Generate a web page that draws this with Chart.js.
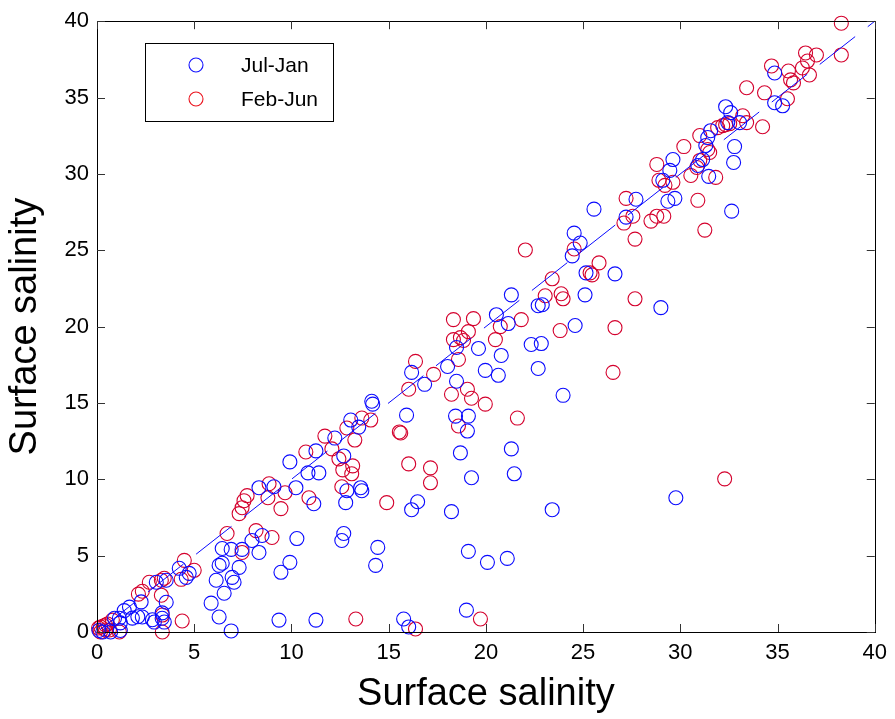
<!DOCTYPE html>
<html>
<head>
<meta charset="utf-8">
<script src="https://cdn.jsdelivr.net/npm/chart.js@4.4.0/dist/chart.umd.min.js"></script>
<style>
  html, body { margin: 0; padding: 0; background: #fff; }
  canvas { display: block; }
</style>
</head>
<body>
<canvas id="c" width="895" height="719"></canvas>
<script>
// ---- data ----
const julJanX = [0.1,0.3,0.7,0.9,1.15,1.2,1.2,1.4,2.1,2.85,3.35,3.35,
  1.67,2.27,2.33,1.82,2.95,3.46,3.56,3.05,3.56,4.23,4.59,4.74,5.87,6.28,6.9,6.13,6.28,6.44,7.05,6.54,6.95,7.31,6.44,6.9,7.46,8.33,7.97,8.49,
  9.36,9.46,9.92,10.28,8.33,9.1,10.23,9.92,10.85,11.41,11.15,11.26,11.26,12.23,15.77,16.03,19.0,12.69,12.59,14.44,14.33,19.1,20.08,21.1,
  18.23,16.18,16.49,12.79,13.56,13.62,12.85,12.69,13.05,13.46,14.13,14.18,15.92,16.18,16.85,18.03,18.49,18.44,19.1,19.05,18.69,19.26,
  21.31,21.46,19.62,19.97,20.64,20.79,20.54,21.15,22.33,22.85,22.69,18.49,29.62,29.46,29.1,29.36,29.72,27.72,27.21,32.74,32.64,31.46,30.9,
  25.56,24.54,24.85,24.44,25.15,26.64,25.1,29.0,21.31,22.69,22.9,24.59,23.97,29.77,23.41,32.33,32.59,33.05,31.56,31.41,31.31,31.15,32.79,
  34.85,34.85,35.26,32.44];
const julJanY = [0.1,0.0,0.0,0.9,0.9,0.6,0.1,1.4,1.0,0.8,0.9,1.25,
  1.63,1.97,0.98,0.91,0.65,0.65,1.95,3.26,3.39,4.17,3.58,3.84,1.89,0.98,0.07,3.39,4.36,4.5,3.26,2.54,3.58,4.23,5.47,5.41,5.41,5.21,5.99,6.32,
  0.78,3.91,4.56,6.12,9.45,9.51,9.45,11.14,10.42,10.42,8.4,11.86,0.78,12.7,0.85,0.33,1.43,6.45,5.99,5.54,4.36,5.28,4.56,4.82,
  7.88,8.01,8.53,8.47,9.45,9.25,9.25,11.53,13.88,13.42,15.11,14.92,14.2,17.0,16.22,17.39,16.42,14.14,14.14,13.16,11.73,10.1,
  11.99,10.36,18.57,17.13,16.81,18.11,20.78,20.2,18.83,18.89,17.26,18.63,30.94,30.23,29.58,28.21,28.4,28.34,27.17,30.75,27.56,29.84,30.55,
  27.69,26.12,25.47,24.63,23.52,23.45,22.08,21.24,22.08,21.37,21.43,20.07,15.5,8.79,8.01,34.4,34.01,33.36,32.83,32.38,31.86,30.94,31.79,
  36.61,34.66,34.46,33.36];

const febJunX = [0.08,0.18,0.33,0.44,0.54,0.18,0.79,1.15,0.64,0.44,
  2.13,2.33,2.69,3.31,3.36,3.36,4.38,4.33,4.49,5.0,6.69,7.46,7.31,7.46,7.56,7.72,8.85,8.79,9.67,9.46,8.18,9.0,10.9,10.74,11.72,12.08,
  12.44,12.64,13.15,13.1,12.59,12.85,13.26,13.62,14.08,13.31,14.9,15.62,15.55,16.03,17.15,17.15,16.03,16.38,17.31,18.23,19.05,19.26,19.97,
  18.59,18.59,18.33,19.36,18.33,18.69,18.85,19.1,20.49,20.74,21.82,21.62,19.72,16.38,28.79,28.9,29.21,29.62,30.54,30.85,31.0,31.51,31.82,
  30.9,31.26,27.21,27.56,27.1,28.49,28.79,29.15,27.67,22.03,24.54,25.82,25.36,25.46,23.41,23.05,23.87,23.97,27.67,23.82,26.64,26.54,32.28,
  38.28,38.28,36.44,37.0,36.54,36.28,36.64,34.69,35.56,35.67,35.82,35.51,33.41,34.33,33.21,33.41,34.23,32.33,31.92,32.18,32.54,31.0,31.41,
  30.18,3.31,3.46];
const febJunY = [0.26,0.33,0.39,0.46,0.52,0.0,0.78,0.0,0.13,0.13,
  2.48,2.67,3.26,2.41,1.11,0.0,0.72,3.45,4.69,4.04,6.45,5.21,7.75,8.14,8.6,8.93,9.71,8.79,9.12,8.08,6.64,6.19,8.79,11.79,12.83,11.99,
  11.34,10.62,10.88,10.36,9.51,13.36,12.57,14.01,13.88,0.85,8.47,13.03,13.1,11.01,10.75,9.77,15.9,17.72,16.87,15.57,15.9,15.31,14.92,
  13.49,17.85,20.46,20.52,19.15,19.28,19.09,19.67,19.15,20.0,20.46,14.01,0.85,0.2,30.62,29.58,29.25,29.45,29.9,30.42,30.88,31.4,29.77,
  28.27,26.32,28.4,27.23,26.78,26.91,27.23,27.23,25.73,25.02,25.08,24.17,23.52,23.39,23.13,22.02,22.15,21.82,21.82,19.74,19.93,17.0,10.03,
  39.87,37.79,37.92,37.79,37.39,36.94,36.48,37.07,36.74,36.16,35.96,34.92,35.64,35.31,33.81,33.36,33.09,33.22,33.03,33.16,33.29,32.51,31.6,
  31.79,3.39,3.52];

const refLineX = [0, 40];
const refLineY = [0, 40];
const xTicks = [0,5,10,15,20,25,30,35,40];
const yTicks = [0,5,10,15,20,25,30,35,40];
const seriesNames = ['Jul-Jan', 'Feb-Jun'];
const axisTitle = 'Surface salinity';

// ---- styling ----
const BLUE = 'rgb(10,10,255)';
const RED = 'rgb(212,0,45)';
const FONT = "'Liberation Sans', Arial, Helvetica, sans-serif";

function pts(xs, ys) { return xs.map((x, i) => ({ x: x, y: ys[i] })); }

const framePlugin = {
  id: 'matlabFrame',
  afterDatasetsDraw(chart) {
    const { ctx, chartArea: a, scales } = chart;
    ctx.save();
    ctx.strokeStyle = '#000';
    ctx.lineWidth = 1;
    ctx.strokeRect(Math.round(a.left) + 0.5, Math.round(a.top) + 0.5, Math.round(a.right - a.left), Math.round(a.bottom - a.top));
    const tl = 8;
    ctx.strokeStyle = '#333';
    ctx.beginPath();
    xTicks.forEach(v => {
      const px = Math.round(scales.x.getPixelForValue(v)) + 0.5;
      ctx.moveTo(px, a.bottom); ctx.lineTo(px, a.bottom - tl);
      ctx.moveTo(px, a.top); ctx.lineTo(px, a.top + tl);
    });
    yTicks.forEach(v => {
      const py = Math.round(scales.y.getPixelForValue(v)) + 0.5;
      ctx.moveTo(a.left, py); ctx.lineTo(a.left + tl, py);
      ctx.moveTo(a.right, py); ctx.lineTo(a.right - tl, py);
    });
    ctx.stroke();

    // legend box (inside the axes, upper-left)
    const lx = 145.5, ly = 43.5, lw = 188, lh = 78;
    ctx.fillStyle = '#fff';
    ctx.fillRect(lx, ly, lw, lh);
    ctx.strokeStyle = '#000';
    ctx.lineWidth = 1;
    ctx.strokeRect(lx, ly, lw, lh);
    const colors = ['rgb(20,20,255)', 'rgb(235,20,30)'];
    const rows = [65, 99];
    ctx.font = '21px ' + FONT;
    ctx.textBaseline = 'middle';
    ctx.textAlign = 'left';
    seriesNames.forEach((name, i) => {
      ctx.beginPath();
      ctx.strokeStyle = colors[i];
      ctx.lineWidth = 1.1;
      ctx.arc(196, rows[i], 7, 0, Math.PI * 2);
      ctx.stroke();
      ctx.fillStyle = '#000';
      ctx.fillText(name, 241, rows[i] + 1);
    });
    ctx.restore();
  }
};

new Chart(document.getElementById('c'), {
  type: 'scatter',
  data: {
    datasets: [
      {
        type: 'line',
        label: 'fit',
        data: pts(refLineX, refLineY),
        borderColor: BLUE,
        borderWidth: 1,
        borderDash: [45, 16],
        borderDashOffset: 57,
        pointRadius: 0,
        fill: false,
        clip: false
      },
      {
        label: seriesNames[0],
        data: pts(julJanX, julJanY),
        borderColor: BLUE,
        backgroundColor: 'rgba(0,0,0,0)',
        pointRadius: 7,
        pointBorderWidth: 1.1,
        clip: false
      },
      {
        label: seriesNames[1],
        data: pts(febJunX, febJunY),
        borderColor: RED,
        backgroundColor: 'rgba(0,0,0,0)',
        pointRadius: 7,
        pointBorderWidth: 1.1,
        clip: false
      }
    ]
  },
  options: {
    responsive: false,
    devicePixelRatio: 1,
    animation: false,
    events: [],
    layout: { padding: { left: 0, right: 18, top: 18, bottom: 0 } },
    plugins: { legend: { display: false }, tooltip: { enabled: false } },
    scales: {
      x: {
        type: 'linear', min: 0, max: 40,
        afterBuildTicks: s => { s.ticks = xTicks.map(v => ({ value: v })); },
        afterFit: s => { s.height = 87; },
        grid: { display: false, drawTicks: false },
        border: { display: false },
        ticks: { padding: 8, color: '#000', font: { family: FONT, size: 22 }, maxRotation: 0, autoSkip: false },
        title: { display: true, text: axisTitle, color: '#000', font: { family: FONT, size: 38, lineHeight: 1 }, padding: { top: 0, bottom: 5 } }
      },
      y: {
        type: 'linear', min: 0, max: 40,
        afterBuildTicks: s => { s.ticks = yTicks.map(v => ({ value: v })); },
        afterFit: s => { s.width = 97; },
        grid: { display: false, drawTicks: false },
        border: { display: false },
        ticks: { padding: 8, color: '#000', font: { family: FONT, size: 22 }, autoSkip: false },
        title: { display: true, text: axisTitle, color: '#000', font: { family: FONT, size: 38, lineHeight: 1 }, padding: { top: 7, bottom: 0 } }
      }
    }
  },
  plugins: [framePlugin]
});
</script>
</body>
</html>
